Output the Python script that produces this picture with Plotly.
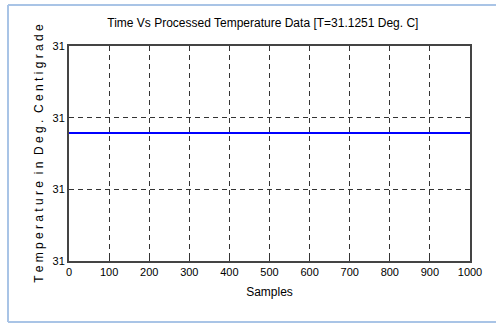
import plotly.graph_objects as go

samples = list(range(0, 1001, 10))
temperature = [31.1251] * len(samples)
x_ticks = list(range(0, 1001, 100))
y_ticks = [31.0, 31.07, 31.14, 31.21]
y_ticklabels = ["31", "31", "31", "31"]

FONT = "Liberation Sans Narrow, Arial Narrow, Liberation Sans, sans-serif"

fig = go.Figure()
fig.add_trace(go.Scatter(x=samples, y=temperature, mode="lines",
                         line=dict(color="#0000ff", width=2), showlegend=False))

L, R, T, B = 69, 26, 46, 64
PW, PH = 496 - L - R, 325 - T - B

fig.update_layout(
    width=496, height=325,
    margin=dict(l=L, r=R, t=T, b=B, autoexpand=False),
    paper_bgcolor="white", plot_bgcolor="white",
    title=dict(text="Time Vs Processed Temperature Data [T=31.1251 Deg. C]",
               x=0.53, xanchor="center", y=0.93, yanchor="middle",
               font=dict(family=FONT, size=12, color="black")),
    font=dict(family=FONT, color="black"),
)
fig.update_xaxes(range=[0, 1000], tickvals=x_ticks, ticks="inside", ticklen=5,
                 tickcolor="#333", showline=True, linecolor="#444", linewidth=2,
                 mirror="ticks", showgrid=True, gridcolor="#333", griddash="5px,4px",
                 gridwidth=1.3, zeroline=False, automargin=False,
                 tickfont=dict(family=FONT, size=11),
                 title=dict(text="Samples", font=dict(family=FONT, size=12), standoff=10))
fig.update_yaxes(range=[y_ticks[0], y_ticks[-1]], tickvals=y_ticks, ticktext=y_ticklabels,
                 ticks="inside", ticklen=5, tickcolor="#333",
                 showline=True, linecolor="#444", linewidth=2, mirror="ticks",
                 showgrid=True, gridcolor="#333", griddash="5px,4px", gridwidth=1.3,
                 zeroline=False, automargin=False, tickfont=dict(family=FONT, size=11),
                 title=dict(text="T e m p e r a t u r e  i n  D e g .  C e n t i g r a d e",
                            font=dict(family=FONT, size=12), standoff=6))

# light-blue frame around the figure (screenshot border)
fx0 = -(L - 8) / PW
fy_top = 1 + (T - 5) / PH
fy_bot = -(B - 3) / PH
frame = dict(color="#a9c4e6", width=2)
fig.add_shape(type="line", xref="paper", yref="paper",
              x0=fx0, x1=1 + R / PW, y0=fy_top, y1=fy_top, line=frame)
fig.add_shape(type="line", xref="paper", yref="paper",
              x0=fx0, x1=fx0, y0=fy_top, y1=fy_bot, line=frame)
fig.add_shape(type="line", xref="paper", yref="paper",
              x0=fx0, x1=1 + R / PW, y0=fy_bot, y1=fy_bot, line=frame)

fig.write_html("out.html", config={"displayModeBar": False},
               post_script="document.body.style.margin='0';document.body.style.overflow='hidden';")
